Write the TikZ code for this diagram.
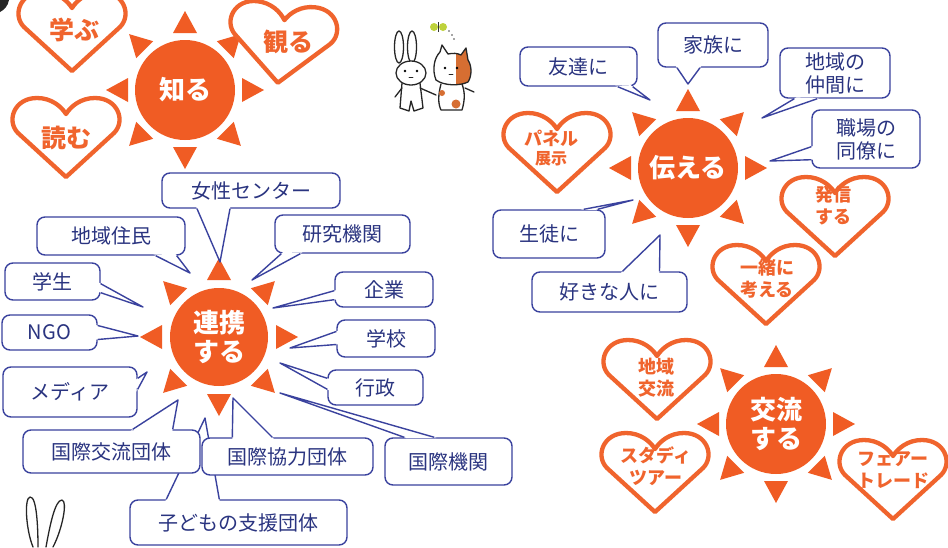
\documentclass[tikz,border=0pt]{standalone}
\usepackage{fontspec}
\newfontfamily\jp{Noto Sans CJK JP}
\usetikzlibrary{calc}
\definecolor{sunor}{RGB}{240,92,36}
\definecolor{heartor}{RGB}{240,100,45}
\definecolor{cblue}{RGB}{58,66,158}
\definecolor{ctext}{RGB}{42,52,128}
\definecolor{catpatch}{RGB}{214,110,50}
\definecolor{wing}{RGB}{190,210,60}

\tikzset{
  sunball/.style={circle, fill=sunor, minimum size=100pt, inner sep=0pt, text=white,
    font=\jp\bfseries\fontsize{26}{29}\selectfont, align=center},
  bubble/.style={draw=cblue, line width=1.4pt, fill=white, rounded corners=8pt, text=ctext,
    font=\jp\fontsize{20}{23}\selectfont, align=center, inner sep=0pt},
  tailline/.style={draw=cblue, line width=1.4pt, line join=round},
  heartline/.style={draw=heartor, line width=4.3pt, fill=white, line join=round},
  hearttext/.style={text=heartor, font=\jp\bfseries\fontsize{18}{22}\selectfont, align=center, inner sep=0pt},
  bigheart/.style={font=\jp\bfseries\fontsize{25}{28}\selectfont},
  ink/.style={draw=black!85, line width=1.3pt, line cap=round, line join=round},
}

% eight triangular rays around a sun node
\newcommand\mksun[1]{%
  \foreach \a in {0,45,...,315}
    \fill[sunor] ($(#1.center)+(\a:57)+(\a+90:12)$) -- ($(#1.center)+(\a:79)$)
      -- ($(#1.center)+(\a:57)+(\a-90:12)$) -- cycle;}

% heart outline: centre x, centre y, rotation
\newcommand\mkheart[3]{%
  \path[heartline, shift={(#1,#2)}, rotate=#3]
    (0,40) -- (-48,-4) .. controls (-60,-16) and (-52,-39) .. (-29,-39)
    .. controls (-15,-39) and (-5,-31) .. (0,-23)
    .. controls (5,-31) and (15,-39) .. (29,-39)
    .. controls (52,-39) and (60,-16) .. (48,-4) -- cycle;}

% speech bubble: name, x1, y1, x2, y2, text
\newcommand\mkbubble[6]{%
  \node[bubble, minimum width={#4-#2}, minimum height={#5-#3}] (#1) at ({(#2+#4)/2},{(#3+#5)/2}) {#6};}

% bubble tail: name, base point a, base point b, tip
\newcommand\mktail[4]{%
  \coordinate (#1-a) at (#2);
  \coordinate (#1-b) at (#3);
  \coordinate (#1-t) at (#4);
  \fill[white] ($(#1-a)!-2.5pt!(#1-t)$) -- (#1-t) -- ($(#1-b)!-2.5pt!(#1-t)$) -- cycle;
  \draw[tailline] (#1-a) -- (#1-t) -- (#1-b);}

\begin{document}
\begin{tikzpicture}[x=1pt, y=-1pt]
\useasboundingbox (0,0) rectangle (948,547);
\fill[white] (0,0) rectangle (948,547);

% ---------- 知る ----------
\node[sunball] (shiru) at (185,90) {知る};
\mksun{shiru}
\mkheart{72}{31}{0}
\node[hearttext, bigheart] (manabu) at (74,30) {学ぶ};
\mkheart{282}{43}{-6}
\node[hearttext, bigheart] (miru) at (288,42) {観る};
\mkheart{66}{137}{0}
\node[hearttext, bigheart] (yomu) at (66,138) {読む};

% ---------- 伝える ----------
\node[sunball] (tsutaeru) at (688,168) {伝える};
\mksun{tsutaeru}
\mkheart{557}{152}{0}
\node[hearttext] (panel) at (551,148) {パネル\\[-3pt]{\fontsize{16}{18}\selectfont 展示}};
\mkheart{835}{216}{0}
\node[hearttext] (hasshin) at (833,206) {発信\\する};
\mkheart{766}{284}{0}
\node[hearttext] (issho) at (767,279) {一緒に\\考える};

\mkbubble{tomo}{520}{47}{637}{86}{友達に}
\mktail{tomo}{$(tomo.south east)+(-20,0)$}{$(tomo.south east)+(-5,0)$}{650,100}
\mkbubble{kazoku}{658}{23}{768}{67}{家族に}
\mktail{kazoku}{$(kazoku.south)+(-36,0)$}{$(kazoku.south)+(-13,0)$}{688,84}
\mkbubble{nakama}{780}{48}{890}{98}{地域の\\仲間に}
\mktail{nakama}{$(nakama.south west)+(15,0)$}{$(nakama.south west)+(38,0)$}{762,118}
\mkbubble{shokuba}{812}{110}{920}{168}{職場の\\同僚に}
\mktail{shokuba}{$(shokuba.south west)+(0,-22)$}{$(shokuba.south west)+(0,-9)$}{770,161}
\mkbubble{seito}{493}{210}{605}{258}{生徒に}
\mktail{seito}{$(seito.north east)+(-22,0)$}{$(seito.north east)+(-8,0)$}{633,200}
\mkbubble{suki}{532}{272}{687}{312}{好きな人に}
\mktail{suki}{$(suki.north)+(13,0)$}{$(suki.north)+(50,0)$}{660,235}

% ---------- 連携する ----------
\node[sunball, minimum size=98pt] (renkei) at (219,337) {連携\\する};
\mksun{renkei}

\mkbubble{kodomo}{130}{500}{347}{545}{子どもの支援団体}
\mktail{kodomo}{$(kodomo.north west)+(37,0)$}{$(kodomo.north west)+(90,0)$}{205,418}

\mkbubble{josei}{162}{173}{340}{208}{女性センター}
\mktail{josei}{$(josei.south)+(-54,0)$}{$(josei.south)+(-21,0)$}{220,262}
\mkbubble{jumin}{37}{217}{185}{255}{地域住民}
\mktail{jumin}{$(jumin.south east)+(-30,0)$}{$(jumin.south east)+(-9,0)$}{190,273}
\mkbubble{kenkyu}{275}{215}{410}{253}{研究機関}
\mktail{kenkyu}{$(kenkyu.south west)+(7,0)$}{$(kenkyu.south west)+(26,0)$}{252,280}
\mkbubble{gakusei}{5}{263}{100}{300}{学生}
\mktail{gakusei}{$(gakusei.south east)+(0,-17)$}{$(gakusei.south east)+(0,-8)$}{143,307}
\mkbubble{kigyo}{335}{272}{433}{307}{企業}
\mktail{kigyo}{$(kigyo.south west)+(0,-17)$}{$(kigyo.south west)+(0,-8)$}{273,308}
\mkbubble{ngo}{2}{315}{97}{350}{NGO}
\mktail{ngo}{$(ngo.east)+(0,-7)$}{$(ngo.east)+(0,7)$}{138,336}
\mkbubble{gakko}{337}{320}{435}{357}{学校}
\mktail{gakko}{$(gakko.west)+(0,-7)$}{$(gakko.west)+(0,6)$}{290,348}
\mkbubble{media}{3}{367}{137}{417}{メディア}
\mktail{media}{$(media.north east)+(0,12)$}{$(media.north east)+(0,23)$}{147,372}
\mkbubble{gyosei}{328}{370}{423}{405}{行政}
\mktail{gyosei}{$(gyosei.north west)+(0,9)$}{$(gyosei.north west)+(0,20)$}{280,363}
\mkbubble{kokuko}{23}{430}{200}{473}{国際交流団体}
\mktail{kokuko}{$(kokuko.north east)+(-68,0)$}{$(kokuko.north east)+(-28,0)$}{178,400}
\mkbubble{kyoryoku}{202}{438}{373}{475}{国際協力団体}
\mktail{kyoryoku}{$(kyoryoku.north west)+(31,0)$}{$(kyoryoku.north west)+(71,0)$}{233,398}
\mkbubble{kikan}{385}{438}{512}{485}{国際機関}
\mktail{kikan}{$(kikan.north west)+(20,0)$}{$(kikan.north west)+(50,0)$}{280,393}

% ---------- 交流する ----------
\node[sunball] (koryu) at (776,424) {交流\\する};
\mksun{koryu}
\mkheart{657}{379}{0}
\node[hearttext] (chiikikoryu) at (656,378) {地域\\交流};
\mkheart{655}{472}{0}
\node[hearttext] (study) at (656,466) {スタディ\\ツアー};
\mkheart{893}{479}{0}
\node[hearttext] (fair) at (893,470) {フェアー\\トレード};

% ---------- little characters ----------
% rabbit
\draw[ink, fill=white] (399,47) ellipse (4.5 and 16);
\draw[ink, fill=white] (412,47) ellipse (4.5 and 16);
\draw[ink, fill=white] (402,83) -- (400,108) -- (409,111) -- (411,101) -- (414,111) -- (423,108) -- (420,83);
\draw[ink] (402,88) -- (395,97);
\draw[ink] (420,88) -- (436,95);
\draw[ink, fill=white] (411,73) ellipse (15 and 12);
\fill[black] (405,71) circle (1.3) (417,71) circle (1.3);
\draw[ink, line width=0.8pt] (409,77) -- (413,77);
% cat
\draw[ink, fill=white] (441,84) .. controls (438,95) and (438,104) .. (441,110)
  -- (462,110) .. controls (465,100) and (465,92) .. (462,84);
\fill[catpatch] (456,104) circle (4.5);
\fill[catpatch] (442,93) circle (3);
\begin{scope}
  \clip (436,80) .. controls (432,70) and (434,58) .. (440,52) -- (442,45) -- (448,54)
    .. controls (453,53) and (457,53) .. (461,55) -- (466,48) -- (468,60)
    .. controls (472,66) and (472,76) .. (468,82) .. controls (460,86) and (444,86) .. (436,80) -- cycle;
  \fill[white] (430,40) rectangle (476,90);
  \fill[catpatch] (456,40) rectangle (476,90);
\end{scope}
\draw[ink] (436,80) .. controls (432,70) and (434,58) .. (440,52) -- (442,45) -- (448,54)
  .. controls (453,53) and (457,53) .. (461,55) -- (466,48) -- (468,60)
  .. controls (472,66) and (472,76) .. (468,82) .. controls (460,86) and (444,86) .. (436,80) -- cycle;
\fill[black] (445,68) circle (1.3) (457,68) circle (1.3);
\draw[ink, line width=0.8pt] (449,74) -- (453,74);
\draw[ink] (465,88) -- (474,92);
% butterfly
\fill[wing] (434,27) circle (4) (443,27) circle (4);
\draw[black!80, line width=0.8pt] (438.5,22) -- (438.5,32);
\fill[black!70] (449,31) circle (0.8) (452,35) circle (0.8) (454,39) circle (0.8);
% rabbit ears at the bottom
\draw[ink] (33,547) .. controls (26,530) and (24,498) .. (30,497) .. controls (37,496) and (38,530) .. (38,547);
\draw[ink] (46,547) .. controls (50,525) and (55,500) .. (62,500) .. controls (68,501) and (62,530) .. (53,547);
% dark shape at the top left corner
\fill[black!85] (0,0) -- (9,0) .. controls (8,6) and (4,10) .. (0,12) -- cycle;
\end{tikzpicture}
\end{document}
